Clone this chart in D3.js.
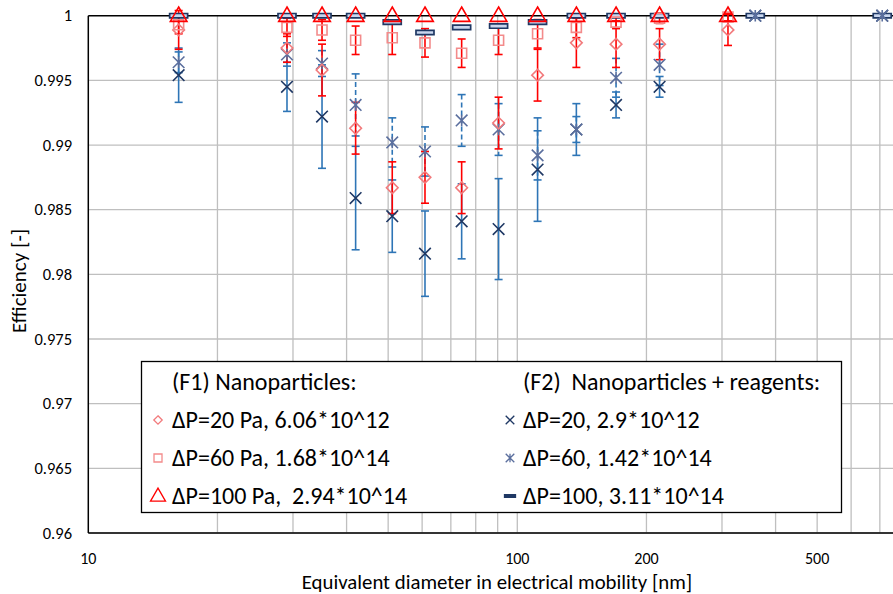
<!DOCTYPE html>
<html>
<head>
<meta charset="utf-8">
<script src="https://cdn.jsdelivr.net/npm/d3@7"></script>
<style>
html,body{margin:0;padding:0;background:#fff;}
svg{display:block;}
text{font-family:Carlito, Lato, "Open Sans", sans-serif;fill:#000;}
</style>
</head>
<body>
<svg id="chart" width="893" height="594"></svg>
<script>
// ---- data ----
const diameters = [16.24, 29.05, 35.06, 41.99, 51.11, 60.93, 74.18, 90.45, 111.5, 137.3, 169.9, 214.6, 309.8, 358.7, 709];

const f1_20     = [0.9989, 0.9975, 0.9958, 0.9913, 0.9867, 0.9875, 0.9867, 0.9917, 0.9954, 0.9979, 0.9978, 0.9978, 0.9989, null, null];
const f1_20_err = [0.0015, 0.0011, 0.0020, 0.0020, 0.0020, 0.0020, 0.0020, 0.0020, 0.0020, 0.0019, 0.0018, 0.0012, 0.0012, null, null];
const f1_60     = [0.9993, 0.9991, 0.9989, 0.9981, 0.9983, 0.9979, 0.9971, 0.9981, 0.9986, 0.9991, 0.9995, 0.9998, 0.9999, null, null];
const f1_60_err = [0.0007, 0.0007, 0.0008, 0.0011, 0.0013, 0.0011, 0.0011, 0.0011, 0.0011, 0.0008, 0.0005, 0.0004, 0.0003, null, null];
const f1_100    = [1, 1, 1, 1, 1, 1, 1, 1, 1, 1, 1, 1, 1, null, null];
const f1_100_err= [0, 0, 0, 0, 0, 0, 0, 0, 0, 0, 0, 0, 0, null, null];

const f2_20     = [0.9954, 0.9945, 0.9922, 0.9859, 0.9845, 0.9816, 0.9841, 0.9835, 0.9881, 0.9912, 0.9931, 0.9945, null, 1, 1];
const f2_20_err = [0.0021, 0.0019, 0.0040, 0.0040, 0.0028, 0.0033, 0.0029, 0.0039, 0.0040, 0.0020, 0.0010, 0.0008, null, 0, 0];
const f2_60     = [0.9964, 0.9970, 0.9963, 0.9931, 0.9902, 0.9895, 0.9919, 0.9912, 0.9892, 0.9912, 0.9952, 0.9962, null, 1, 1];
const f2_60_err = [0.0008, 0.0009, 0.0010, 0.0024, 0.0019, 0.0019, 0.0020, 0.0020, 0.0019, 0.0010, 0.0015, 0.0016, null, 0, 0];
const f2_100    = [1, 1, 1, 1, 0.9995, 0.9987, 0.9991, 0.9992, 0.9995, 1, 1, 1, null, 1, 1];
const f2_100_err= [0, 0, 0, 0, 0, 0, 0, 0, 0, 0, 0, 0, null, 0, 0];

const yTicks = [0.96, 0.965, 0.97, 0.975, 0.98, 0.985, 0.99, 0.995, 1];
const yTickLabels = ["0.96", "0.965", "0.97", "0.975", "0.98", "0.985", "0.99", "0.995", "1"];
const xTickValues = [10, 100, 200, 500];
const xTickLabels = ["10", "100", "200", "500"];
const xGridValues = [20, 30, 40, 50, 60, 70, 80, 90, 100, 200, 300, 400, 500, 600, 700, 800, 900];

const legendF1Title = "(F1) Nanoparticles:";
const legendF2Title = "(F2)  Nanoparticles + reagents:";
const seriesLabels = ["ΔP=20 Pa, 6.06*10^12", "ΔP=60 Pa, 1.68*10^14", "ΔP=100 Pa,  2.94*10^14",
                      "ΔP=20, 2.9*10^12", "ΔP=60, 1.42*10^14", "ΔP=100, 3.11*10^14"];
const xTitle = "Equivalent diameter in electrical mobility [nm]";
const yTitle = "Efficiency [-]";

// ---- setup ----
const svg = d3.select("#chart");
const mLeft = 88.3, mTop = 15.7, mBottom = 533;
const x = d3.scaleLog().domain([10, 1000]).range([mLeft, mLeft + 2 * 429]);
const y = d3.scaleLinear().domain([0.96, 1]).range([mBottom, mTop]);

const RED = "#ff0000", BLUE_ERR = "#2e75b6", NAVY = "#1f3864", SLATE = "#5b6f9e";

// grid
const grid = svg.append("g");
grid.selectAll("line.h").data(yTicks.filter(v => v < 1)).join("line")
  .attr("x1", mLeft).attr("x2", 893)
  .attr("y1", d => y(d)).attr("y2", d => y(d))
  .attr("stroke", "#bfbfbf").attr("stroke-width", 1.3);
grid.selectAll("line.v").data(xGridValues).join("line")
  .attr("x1", d => x(d)).attr("x2", d => x(d))
  .attr("y1", mTop).attr("y2", mBottom)
  .attr("stroke", "#bfbfbf").attr("stroke-width", 1.3);

// axes lines
svg.append("line").attr("x1", mLeft).attr("x2", 893).attr("y1", y(1)).attr("y2", y(1)).attr("stroke", "#000").attr("stroke-width", 1.5);
svg.append("line").attr("x1", mLeft).attr("x2", 893).attr("y1", y(0.96)).attr("y2", y(0.96)).attr("stroke", "#000").attr("stroke-width", 1.5);
svg.append("line").attr("x1", mLeft).attr("x2", mLeft).attr("y1", mTop).attr("y2", mBottom).attr("stroke", "#000").attr("stroke-width", 1.5);

// tick labels
svg.append("g").selectAll("text").data(yTicks).join("text")
  .attr("x", 72).attr("y", d => y(d)).attr("dy", "0.35em")
  .attr("text-anchor", "end").attr("font-size", 16.5)
  .text((d, i) => yTickLabels[i]);
svg.append("g").selectAll("text").data(xTickValues).join("text")
  .attr("x", d => x(d)).attr("y", 558).attr("dy", "0.35em")
  .attr("text-anchor", "middle").attr("font-size", 16)
  .text((d, i) => xTickLabels[i]);

svg.append("text").attr("x", 497).attr("y", 582).attr("dy", "0.35em")
  .attr("text-anchor", "middle").attr("font-size", 20.8).text(xTitle);
svg.append("text").attr("transform", `translate(19,${y(0.9795)}) rotate(-90)`).attr("dy", "0.35em")
  .attr("text-anchor", "middle").attr("font-size", 21).text(yTitle);

// marker paths
const shapes = {
  diamond: s => `M0,${-s}L${s},0L0,${s}L${-s},0Z`,
  square: s => `M${-s},${-s}H${s}V${s}H${-s}Z`,
  triangle: s => `M0,${-s*1.05}L${s},${s*0.68}L${-s},${s*0.68}Z`,
  cross: s => `M${-s},${-s}L${s},${s}M${-s},${s}L${s},${-s}`,
  star: s => `M${-s},${-s}L${s},${s}M${-s},${s}L${s},${-s}M0,${-s}L0,${s}`,
  dash: s => `M${-s},-2.2H${s}V2.2H${-s}Z`
};

const series = [
  {vals: f2_100, err: f2_100_err, shape: "dash", size: 9, stroke: NAVY, fill: "#c9d6ee", sw: 1.7, ecol: BLUE_ERR, dash: null},
  {vals: f2_20, err: f2_20_err, shape: "cross", size: 5.8, stroke: NAVY, fill: "none", sw: 1.6, ecol: BLUE_ERR, dash: null},
  {vals: f2_60, err: f2_60_err, shape: "star", size: 5.8, stroke: SLATE, fill: "none", sw: 1.6, ecol: BLUE_ERR, dash: "5,3"},
  {vals: f1_20, err: f1_20_err, shape: "diamond", size: 5.8, stroke: "#f27a7c", fill: "none", sw: 1.6, ecol: RED, dash: null},
  {vals: f1_60, err: f1_60_err, shape: "square", size: 5, stroke: "#f38b8b", fill: "none", sw: 1.6, ecol: RED, dash: null},
  {vals: f1_100, err: f1_100_err, shape: "triangle", size: 8.3, stroke: RED, fill: "none", sw: 1.6, ecol: RED, dash: null}
];

// error bars (blue first, then red)
const eb = svg.append("g");
[1, 2, 3, 4].forEach(si => {
  const s = series[si];
  const pts = diameters.map((d, i) => ({d, v: s.vals[i], e: s.err[i]})).filter(p => p.v != null && p.e > 0);
  const g = eb.append("g").attr("stroke", s.ecol).attr("stroke-width", 1.6);
  g.selectAll("line.s").data(pts).join("line")
    .attr("x1", p => x(p.d)).attr("x2", p => x(p.d))
    .attr("y1", p => y(Math.min(p.v + p.e, 1.0012))).attr("y2", p => y(p.v - p.e))
    .attr("stroke-dasharray", s.dash);
  g.selectAll("line.t").data(pts.filter(p => p.v + p.e <= 1.0012)).join("line")
    .attr("x1", p => x(p.d) - 4).attr("x2", p => x(p.d) + 4)
    .attr("y1", p => y(p.v + p.e)).attr("y2", p => y(p.v + p.e));
  g.selectAll("line.b").data(pts).join("line")
    .attr("x1", p => x(p.d) - 4).attr("x2", p => x(p.d) + 4)
    .attr("y1", p => y(p.v - p.e)).attr("y2", p => y(p.v - p.e));
});

// markers
series.forEach(s => {
  const pts = diameters.map((d, i) => ({d, v: s.vals[i]})).filter(p => p.v != null);
  svg.append("g").selectAll("path").data(pts).join("path")
    .attr("transform", p => `translate(${x(p.d)},${y(p.v)})`)
    .attr("d", shapes[s.shape](s.size))
    .attr("fill", s.fill).attr("stroke", s.stroke).attr("stroke-width", s.sw);
});

// legend
const lg = svg.append("g");
lg.append("rect").attr("x", 141.5).attr("y", 361.5).attr("width", 700).attr("height", 151)
  .attr("fill", "#fff").attr("stroke", "#000").attr("stroke-width", 1.3);
const rowsY = [382, 420, 458, 496];
const fs = 24;
lg.append("text").attr("x", 172).attr("y", rowsY[0]).attr("dy", "0.35em").attr("font-size", fs).text(legendF1Title);
lg.append("text").attr("x", 523).attr("y", rowsY[0]).attr("dy", "0.35em").attr("font-size", fs).style("white-space", "pre").text(legendF2Title);
const legOrder = [3, 4, 5, 1, 2, 0];
const legSizes = {diamond: 4.2, square: 4, triangle: 7.5, cross: 4.3, star: 4.3, dash: 5.5};
legOrder.forEach((si, k) => {
  const s = series[si];
  const col = k < 3 ? 0 : 1;
  const row = (k % 3) + 1;
  const mx = col === 0 ? 158 : 510;
  const tx = col === 0 ? 172 : 523;
  const yy = rowsY[row];
  const sz = legSizes[s.shape];
  let d = shapes[s.shape](sz);
  if (s.shape === "dash") d = `M${-sz},-1.3H${sz}V1.3H${-sz}Z`;
  lg.append("path").attr("transform", `translate(${mx},${yy})`).attr("d", d)
    .attr("fill", s.shape === "dash" ? NAVY : "none").attr("stroke", s.stroke).attr("stroke-width", 1.3);
  lg.append("text").attr("x", tx).attr("y", yy).attr("dy", "0.35em").attr("font-size", fs)
    .style("white-space", "pre").text(seriesLabels[k]);
});
</script>
</body>
</html>
